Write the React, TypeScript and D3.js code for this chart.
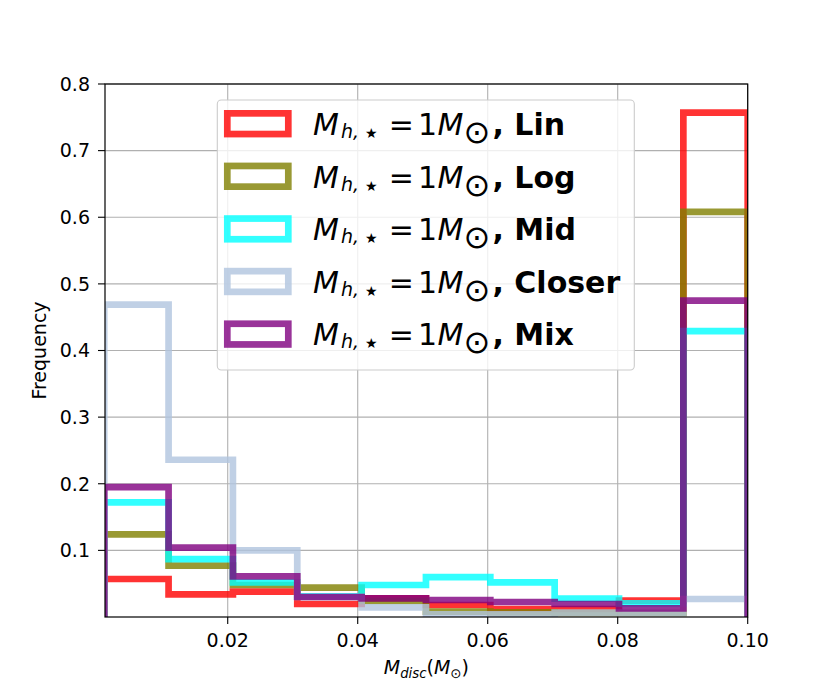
import React from 'react';
import * as d3 from 'd3';

// ---- data ----
const binEdges = [0.001, 0.0109, 0.0208, 0.0307, 0.0406, 0.0505, 0.0604, 0.0703, 0.0802, 0.0901, 0.1];
const seriesNames = ['Lin', 'Log', 'Mid', 'Closer', 'Mix'];
const seriesColors = ['#ff0000', '#808000', '#00ffff', '#b0c4de', '#800080'];
const linValues = [0.057, 0.034, 0.038, 0.0195, 0.028, 0.018, 0.012, 0.012, 0.0245, 0.757];
const logValues = [0.124, 0.077, 0.048, 0.044, 0.024, 0.008, 0.007, 0.006, 0.006, 0.608];
const midValues = [0.172, 0.087, 0.052, 0.031, 0.048, 0.06, 0.052, 0.0275, 0.0205, 0.429];
const closerValues = [0.469, 0.236, 0.1, 0.03, 0.0145, 0.004, 0.004, 0.0067, 0.006, 0.027];
const mixValues = [0.195, 0.104, 0.061, 0.03, 0.028, 0.0255, 0.0225, 0.0195, 0.013, 0.475];
const seriesValues = [linValues, logValues, midValues, closerValues, mixValues];
const xTicks = [0.02, 0.04, 0.06, 0.08, 0.1];
const xTickLabels = ['0.02', '0.04', '0.06', '0.08', '0.10'];
const yTicks = [0.1, 0.2, 0.3, 0.4, 0.5, 0.6, 0.7, 0.8];
const yTickLabels = ['0.1', '0.2', '0.3', '0.4', '0.5', '0.6', '0.7', '0.8'];

// ---- layout ----
const W = 830;
const H = 692;
const L = 105;
const R = 747.7;
const T = 84;
const B = 617;
const FONT = 'DejaVu Sans';
const TICK_FS = 19;

const x = d3.scaleLinear().domain([0.00112, 0.1]).range([L, R]);
const y = d3.scaleLinear().domain([0, 0.8]).range([B, T]);

function histPath(values: number[]) {
  const pts: [number, number][] = [[binEdges[0], 0]];
  values.forEach((v, i) => {
    pts.push([binEdges[i], v]);
    pts.push([binEdges[i + 1], v]);
  });
  pts.push([binEdges[binEdges.length - 1], 0]);
  const line = d3
    .line<[number, number]>()
    .x((d) => x(d[0]))
    .y((d) => y(d[1]));
  return line(pts) || '';
}

const legendX = 217.3;
const legendY = 100;
const legendW = 417;
const legendH = 270;
const rowCenter0 = 123.7;
const rowStep = 52.6;

function LegendLabel({ tx, ty, name }: { tx: number; ty: number; name: string }) {
  return (
    <text fontFamily={FONT} fontSize={30} fill="#000">
      <tspan x={tx - 2} y={ty} fontStyle="italic">M</tspan>
      <tspan x={tx + 26} y={ty + 3} fontStyle="italic" fontSize={19}>h,</tspan>
      <tspan x={tx + 50} y={ty + 3} fontSize={14}>★</tspan>
      <tspan x={tx + 73.7} y={ty}>=</tspan>
      <tspan x={tx + 103} y={ty}>1</tspan>
      <tspan x={tx + 122.5} y={ty} fontStyle="italic">M</tspan>
      <tspan x={tx + 148.5} y={ty + 8} fontSize={32}>⊙</tspan>
      <tspan x={tx + 177.5} y={ty} fontWeight="bold">{', ' + name}</tspan>
    </text>
  );
}

export default function App() {
  return (
    <svg
      width={W}
      height={H}
      viewBox={`0 0 ${W} ${H}`}
      style={{ position: 'absolute', left: 0, top: 0, background: '#fff' }}
    >
      <defs>
        <clipPath id="axclip">
          <rect x={L} y={T} width={R - L} height={B - T} />
        </clipPath>
      </defs>
      <rect x={0} y={0} width={W} height={H} fill="#fff" />

      {/* grid */}
      <g stroke="#b0b0b0" strokeWidth={1.1}>
        {xTicks.map((t) => (
          <line key={'gx' + t} x1={x(t)} x2={x(t)} y1={T} y2={B} />
        ))}
        {yTicks.map((t) => (
          <line key={'gy' + t} x1={L} x2={R} y1={y(t)} y2={y(t)} />
        ))}
      </g>

      {/* histograms */}
      <g clipPath="url(#axclip)">
        {seriesValues.map((vals, i) => (
          <path
            key={seriesNames[i]}
            d={histPath(vals)}
            fill="none"
            stroke={seriesColors[i]}
            strokeOpacity={0.8}
            strokeWidth={6.7}
            strokeLinejoin="miter"
          />
        ))}
      </g>

      {/* spines */}
      <rect x={L} y={T} width={R - L} height={B - T} fill="none" stroke="#000" strokeWidth={1.2} />

      {/* ticks */}
      <g stroke="#000" strokeWidth={1.1}>
        {xTicks.map((t) => (
          <line key={'tx' + t} x1={x(t)} x2={x(t)} y1={B} y2={B + 7} />
        ))}
        {yTicks.map((t) => (
          <line key={'ty' + t} x1={L - 7} x2={L} y1={y(t)} y2={y(t)} />
        ))}
      </g>
      <g fontFamily={FONT} fontSize={TICK_FS} fill="#000">
        {xTicks.map((t, i) => (
          <text key={'lx' + t} x={x(t)} y={646.5} textAnchor="middle">
            {xTickLabels[i]}
          </text>
        ))}
        {yTicks.map((t, i) => (
          <text key={'ly' + t} x={90} y={y(t)} dy="0.36em" textAnchor="end">
            {yTickLabels[i]}
          </text>
        ))}
      </g>

      {/* axis labels */}
      <text
        fontFamily={FONT}
        fontSize={TICK_FS}
        textAnchor="middle"
        transform={`translate(46,${(T + B) / 2}) rotate(-90)`}
      >
        Frequency
      </text>
      <text fontFamily={FONT} fontSize={TICK_FS} x={(L + R) / 2} y={674} textAnchor="middle">
        <tspan fontStyle="italic">M</tspan>
        <tspan fontStyle="italic" fontSize={13.3} dy={3.5}>disc</tspan>
        <tspan dy={-3.5}>(</tspan>
        <tspan fontStyle="italic">M</tspan>
        <tspan fontSize={13.3} dy={3.5}>⊙</tspan>
        <tspan dy={-3.5}>)</tspan>
      </text>

      {/* legend */}
      <rect
        x={legendX}
        y={legendY}
        width={legendW}
        height={legendH}
        rx={4}
        fill="#fff"
        fillOpacity={0.8}
        stroke="#cccccc"
        strokeWidth={1.1}
      />
      {seriesNames.map((name, i) => {
        const cy = rowCenter0 + i * rowStep;
        return (
          <g key={'leg' + name}>
            <rect
              x={227.3}
              y={cy - 10.35}
              width={61}
              height={20.7}
              fill="none"
              stroke={seriesColors[i]}
              strokeOpacity={0.8}
              strokeWidth={6.7}
            />
            <LegendLabel tx={315} ty={cy + 11.3} name={name} />
          </g>
        );
      })}
    </svg>
  );
}
